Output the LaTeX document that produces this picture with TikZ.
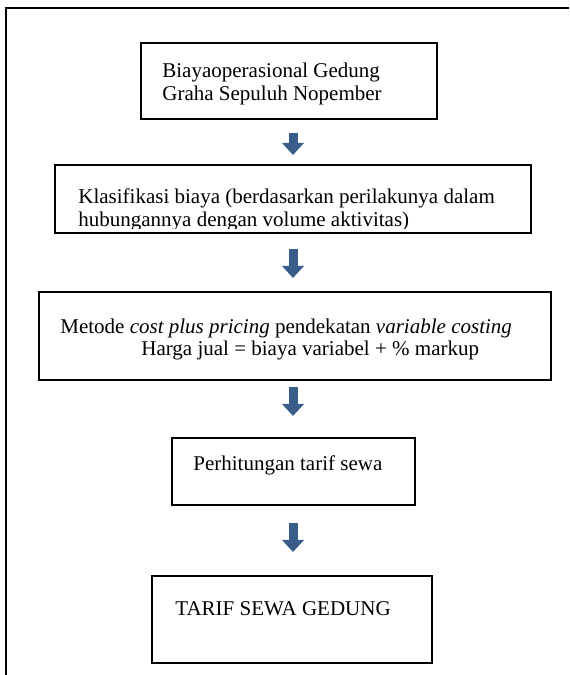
\documentclass[tikz,border=0pt]{standalone}
\usepackage{fontspec}
\setmainfont{Liberation Serif}
\usetikzlibrary{arrows.meta,calc}
\definecolor{arrowblue}{RGB}{56,93,138}
\begin{document}
\begin{tikzpicture}[x=0.5712pt,y=-0.5712pt,
  box/.style={draw=black,line width=1.2pt,rectangle,inner sep=0pt},
  label/.style={inner sep=0pt,anchor=base west,font=\fontsize{12}{14}\selectfont},
  flowarrow/.style={draw=arrowblue,line width=9*0.5712pt,
    -{Triangle[width=22*0.5712pt,length=12*0.5712pt,line width=0pt,fill=arrowblue]}}]
\useasboundingbox (0,0) rectangle (569,675);
% outer frame (top and left sides only)
\draw[line width=1.2pt] (6,675) -- (6,8) -- (569,8);
% boxes
\node[box,minimum width=296*0.5712pt,minimum height=76*0.5712pt] (b1) at (289,81) {};
\node[box,minimum width=476*0.5712pt,minimum height=68*0.5712pt] (b2) at (293,199) {};
\node[box,minimum width=512*0.5712pt,minimum height=88*0.5712pt] (b3) at (295,336) {};
\node[box,minimum width=243*0.5712pt,minimum height=67*0.5712pt] (b4) at (293.5,471.5) {};
\node[box,minimum width=280*0.5712pt,minimum height=87*0.5712pt] (b5) at (292,619.5) {};
% texts
\node[label] (t1a) at (162,77) {Biayaoperasional Gedung};
\node[label] (t1b) at (162,100) {Graha Sepuluh Nopember};
\begin{scope}
\clip (56,166) rectangle (530,228);
\node[label] (t2a) at (78,203) {Klasifikasi biaya (berdasarkan perilakunya dalam};
\node[label] (t2b) at (78,226) {hubungannya dengan volume aktivitas)};
\end{scope}
\node[label] (t3a) at (60,333) {Metode \textit{cost plus pricing} pendekatan \textit{variable costing}};
\node[label] (t3b) at (141,355) {Harga jual = biaya variabel + \% markup};
\node[label] (t4) at (193,470) {Perhitungan tarif sewa};
\node[label] (t5) at (175,615) {TARIF SEWA GEDUNG};
% arrows
\coordinate (ax) at (293,0);
\draw[flowarrow] ($(b1.south -| ax)+(0,13)$) -- ($(b2.north -| ax)+(0,-9)$);
\draw[flowarrow] ($(b2.south -| ax)+(0,15)$) -- ($(b3.north -| ax)+(0,-13)$);
\draw[flowarrow] ($(b3.south -| ax)+(0,6)$) -- ($(b4.north -| ax)+(0,-21)$);
\draw[flowarrow] ($(b4.south -| ax)+(0,17)$) -- ($(b5.north -| ax)+(0,-23)$);
\end{tikzpicture}
\end{document}
